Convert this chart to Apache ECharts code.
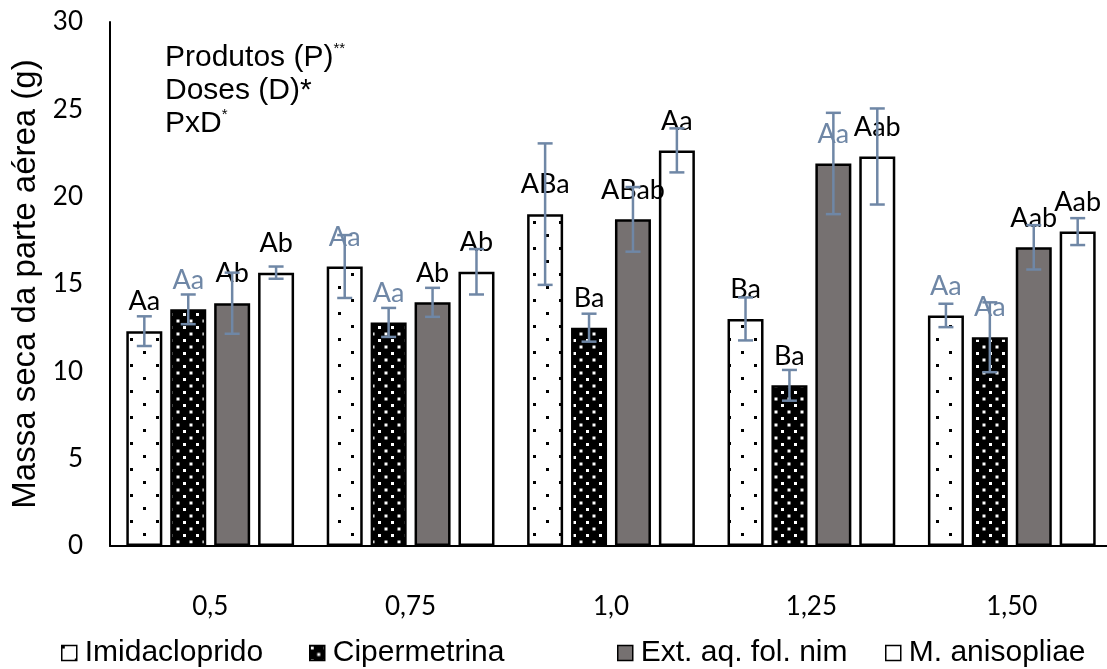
<!DOCTYPE html>
<html><head><meta charset="utf-8">
<script src="https://cdn.jsdelivr.net/npm/echarts@6/dist/echarts.min.js"></script>
<style>html,body{margin:0;padding:0;background:#fff}#c{width:1107px;height:669px}</style>
</head><body><div id="c"></div>
<script>
// ---- data ----
const categories = ['0,5', '0,75', '1,0', '1,25', '1,50'];
const seriesNames = ['Imidacloprido', 'Cipermetrina', 'Ext. aq. fol. nim', 'M. anisopliae'];
const imidacloprido = [12.3, 16.0, 19.0, 13.0, 13.2];
const cipermetrina = [13.55, 12.8, 12.5, 9.2, 11.95];
const extNim = [13.9, 13.95, 18.7, 21.9, 17.1];
const mAnisopliae = [15.65, 15.7, 22.65, 22.3, 18.0];
const errImidacloprido = [0.85, 1.8, 4.05, 1.23, 0.67];
const errCipermetrina = [0.85, 0.83, 0.8, 0.88, 2.0];
const errExtNim = [1.75, 0.83, 1.85, 2.9, 1.27];
const errMAnisopliae = [0.35, 1.3, 1.26, 2.75, 0.77];
const lblImidacloprido = ['Aa', 'Aa', 'ABa', 'Ba', 'Aa'];
const lblCipermetrina = ['Aa', 'Aa', 'Ba', 'Ba', 'Aa'];
const lblExtNim = ['Ab', 'Ab', 'ABab', 'Aa', 'Aab'];
const lblMAnisopliae = ['Ab', 'Ab', 'Aa', 'Aab', 'Aab'];
const yMin = 0, yMax = 30, yStep = 5;
const axisTitle = 'Massa seca da parte aérea (g)';

// ---- styles ----
const errColor = '#6f87a6';
// per series: category indices whose letter label is drawn in the error-bar tint
const tintedLabels = [[1, 4], [0, 1, 4], [3], []];
const legendLefts = [56, 304, 612, 880];

function makePattern(size, bg, fg, dots, d) {
  const c = document.createElement('canvas');
  c.width = size; c.height = size;
  const g = c.getContext('2d');
  g.fillStyle = bg; g.fillRect(0, 0, size, size);
  g.fillStyle = fg;
  dots.forEach(p => g.fillRect(p[0], p[1], d, d));
  return { image: c, repeat: 'repeat' };
}
const patImid = makePattern(26, '#ffffff', '#000000', [[0, 0], [13, 13]], 3);
const patCip = makePattern(13, '#000000', '#ffffff', [[1, 1], [7.5, 7.5]], 3);

const vals = [imidacloprido, cipermetrina, extNim, mAnisopliae];
const errs = [errImidacloprido, errCipermetrina, errExtNim, errMAnisopliae];
const lbls = [lblImidacloprido, lblCipermetrina, lblExtNim, lblMAnisopliae];
const fills = [patImid, patCip, '#767171', '#ffffff'];

const BAR_W = 36, GAP = 0.22;
const step = BAR_W * (1 + GAP);

const series = [];
vals.forEach((arr, si) => {
  const tint = tintedLabels[si];
  series.push({
    type: 'bar', name: seriesNames[si], barWidth: BAR_W, barGap: (GAP * 100) + '%',
    itemStyle: { color: fills[si], borderColor: '#000', borderWidth: 2.5 },
    label: {
      show: true, position: 'top', distance: 16,
      fontFamily: 'Lato', fontSize: 27, color: '#000',
      formatter: p => lbls[si][p.dataIndex]
    },
    data: arr.map((v, i) => tint.includes(i) ? { value: v, label: { color: errColor } } : v),
    z: 2
  });
});
vals.forEach((arr, si) => {
  series.push({
    type: 'custom', name: seriesNames[si] + ' erro', z: 5,
    data: arr.map((v, i) => [i, v, errs[si][i]]),
    encode: { x: 0, y: 1 },
    renderItem: (params, api) => {
      const c = api.value(0), v = api.value(1), e = api.value(2);
      const hi = api.coord([c, v + e]);
      const lo = api.coord([c, v - e]);
      const x = hi[0] + (si - 1.5) * step;
      const cap = 7.5;
      const st = { stroke: errColor, lineWidth: 2.5 };
      return {
        type: 'group', children: [
          { type: 'line', shape: { x1: x, y1: hi[1], x2: x, y2: lo[1] }, style: st },
          { type: 'line', shape: { x1: x - cap, y1: hi[1], x2: x + cap, y2: hi[1] }, style: st },
          { type: 'line', shape: { x1: x - cap, y1: lo[1], x2: x + cap, y2: lo[1] }, style: st }
        ]
      };
    }
  });
});

const chart = echarts.init(document.getElementById('c'));
chart.setOption({
  animation: false,
  backgroundColor: '#fff',
  grid: { left: 110, top: 22, bottom: 123, right: -5, containLabel: false, outerBoundsMode: 'none' },
  xAxis: {
    type: 'category', data: categories,
    axisLine: { lineStyle: { color: '#000', width: 2 } },
    axisTick: { show: false },
    axisLabel: { fontFamily: 'Lato', fontSize: 26, color: '#000', margin: 48 },
    splitLine: { show: false }
  },
  yAxis: {
    type: 'value', min: yMin, max: yMax, interval: yStep,
    name: axisTitle, nameLocation: 'middle', nameGap: 66, nameRotate: 90,
    nameTextStyle: { fontFamily: 'Liberation Sans', fontSize: 33, color: '#000' },
    axisLine: { show: true, lineStyle: { color: '#000', width: 2 } },
    axisTick: { show: false },
    axisLabel: { fontFamily: 'Lato', fontSize: 26, color: '#000', margin: 27 },
    splitLine: { show: false }
  },
  legend: seriesNames.map((n, i) => ({
    data: [n], left: legendLefts[i], top: 633, icon: 'rect',
    itemWidth: 15, itemHeight: 15, itemGap: 0,
    itemStyle: { borderColor: '#000', borderWidth: 1.5 },
    textStyle: { fontFamily: 'Liberation Sans', fontSize: 30, color: '#000', padding: [0, 0, 0, 3] }
  })),
  graphic: [{
    type: 'text', left: 165, top: 41,
    style: {
      text: '{a|Produtos (P)}{s|**}\n{a|Doses (D)*}\n{a|PxD}{s|*}',
      rich: {
        a: { fontFamily: 'Liberation Sans', fontSize: 30, lineHeight: 33, fill: '#000' },
        s: { fontFamily: 'Liberation Sans', fontSize: 15, verticalAlign: 'top', lineHeight: 15, fill: '#000' }
      }
    }
  }],
  series: series
});
</script>
</body></html>
